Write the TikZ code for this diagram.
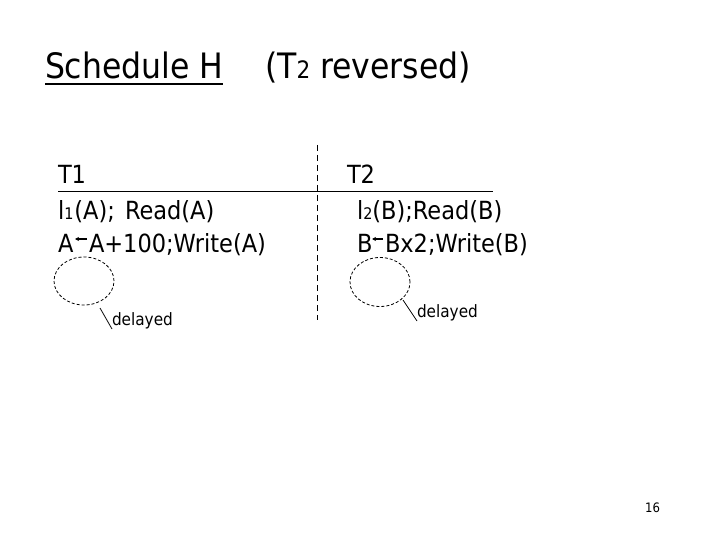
\documentclass[tikz,border=0pt]{standalone}
\usepackage{fontspec}
\setmainfont{DejaVu Sans Condensed}
\usetikzlibrary{arrows.meta,calc,shapes.geometric}
\tikzset{
  txt/.style={anchor=base west, inner sep=0pt, outer sep=0pt, font=\fontsize{25}{29}\selectfont},
  ttl/.style={anchor=base west, inner sep=0pt, outer sep=0pt, font=\fontsize{35}{40}\selectfont},
  small/.style={anchor=base west, inner sep=0pt, outer sep=0pt, font=\fontsize{17}{20}\selectfont},
  bubble/.style={draw, dash pattern=on 3pt off 2pt, line width=0.8pt},
  tail/.style={line width=0.8pt},
  assign/.style={-{Stealth[length=4pt,width=4pt]}, line width=1.2pt}
}
\begin{document}
\begin{tikzpicture}[x=1pt,y=-1pt]
\useasboundingbox (0,0) rectangle (720,540);
% title
\node[ttl] (title) at (45,79) {Schedule H};
\draw[line width=2pt] ($(title.base west)+(0,5)$) -- ($(title.base east)+(0,5)$);
\node[ttl] (sub) at (265,79) {(T{\fontsize{24}{26}\selectfont 2} reversed)};
% separators
\coordinate (hl) at (58,192);
\coordinate (hr) at (493,192);
\draw[line width=1pt] (hl) -- (hr);
\coordinate (vt) at (317,145);
\coordinate (vb) at (317,320);
\draw[line width=1pt, dash pattern=on 6pt off 4pt] (vt) -- (vb);
% T1
\node[txt] (t1) at (58,184) {T1};
\node[txt] (l1) at (58,219) {l{\fontsize{16}{17}\selectfont 1}\hspace{1pt}(A);\hspace{3pt} Read(A)};
\node[txt] (a1) at (58,252) {A};
\node[txt] (a2) at (89,252) {A+100;Write(A)};
\coordinate (ar1s) at (87,239);
\coordinate (ar1e) at (75,239);
\draw[assign] (ar1s) -- (ar1e);
% T2
\node[txt] (t2) at (347,184) {T2};
\node[txt] (l2) at (357,219) {l{\fontsize{16}{17}\selectfont 2}(B);Read(B)};
\node[txt] (b1) at (357,252) {B};
\node[txt] (b2) at (385,252) {Bx2;Write(B)};
\coordinate (ar2s) at (383,239);
\coordinate (ar2e) at (372,239);
\draw[assign] (ar2s) -- (ar2e);
% bubbles
\node[bubble, ellipse, minimum width=60pt, minimum height=48pt, inner sep=0pt] (c1) at (84,281) {};
\coordinate (c1t) at (100,308);
\node[small] (d1) at (112,325) {delayed};
\draw[tail] (c1t) -- ([yshift=-4pt]d1.base west);
\node[bubble, ellipse, minimum width=60pt, minimum height=49pt, inner sep=0pt] (c2) at (380,282) {};
\coordinate (c2t) at (403,300);
\node[small] (d2) at (417,317) {delayed};
\draw[tail] (c2t) -- ([yshift=-4pt]d2.base west);
% page number
\node[anchor=base west, inner sep=0pt, font=\fontsize{13}{14}\selectfont] (pg) at (645,512) {16};
\end{tikzpicture}
\end{document}
